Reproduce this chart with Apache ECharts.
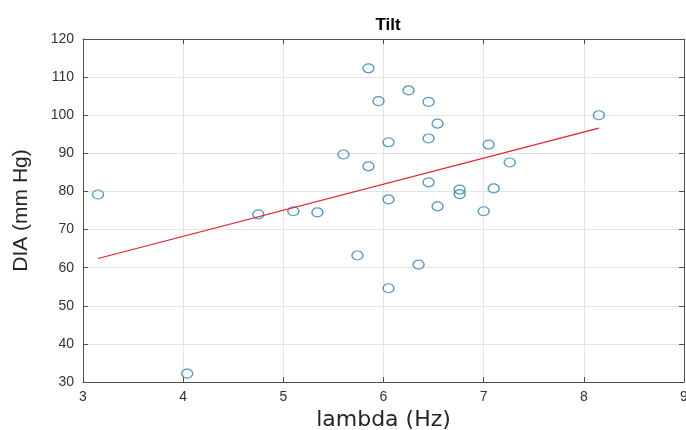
<!DOCTYPE html>
<html>
<head>
<meta charset="utf-8">
<script src="https://cdn.jsdelivr.net/npm/echarts@6/dist/echarts.min.js"></script>
<style>
html, body { margin: 0; padding: 0; background: #fff; }
#main { width: 686px; height: 430px; }
</style>
</head>
<body>
<div id="main"></div>
<script>
// data
var lambdaHz = [3.15, 4.04, 4.75, 5.10, 5.34, 5.60, 5.74, 5.85, 5.85, 5.95, 6.05, 6.05, 6.05, 6.25,
                6.35, 6.45, 6.45, 6.45, 6.54, 6.54, 6.76, 6.76, 7.00, 7.05, 7.10, 7.26, 8.15];
var diaMmHg = [79.2, 32.2, 74.0, 74.8, 74.5, 89.7, 63.2, 86.6, 112.3, 103.7, 92.9, 77.9, 54.6, 106.5,
               60.8, 103.5, 93.9, 82.4, 97.8, 76.1, 80.5, 79.3, 74.8, 92.3, 80.8, 87.6, 100.0];
var fitX = [3.15, 8.15];
var fitY = [62.4, 96.6];

var points = lambdaHz.map(function (x, i) { return [x, diaMmHg[i]]; });
var fitLine = fitX.map(function (x, i) { return [x, fitY[i]]; });

var axisCol = '#4d4d4d';
var tickStyle = { show: true, inside: true, length: 5, lineStyle: { color: axisCol } };

var myChart = echarts.init(document.getElementById('main'));
var option = {
    animation: false,
    title: {
        text: 'Tilt',
        left: 383,
        textAlign: 'center',
        top: 12,
        textStyle: { fontFamily: 'Liberation Sans', fontWeight: 'bold', fontSize: 17, color: '#000' }
    },
    grid: { left: 83, right: 2, top: 39, bottom: 48, outerBoundsMode: 'none', containLabel: false },
    xAxis: [{
        type: 'value', min: 3, max: 9, interval: 1,
        name: 'lambda (Hz)', nameLocation: 'middle', nameGap: 24,
        nameTextStyle: { fontFamily: 'DejaVu Sans', fontSize: 22, color: '#262626' },
        axisLine: { show: true, lineStyle: { color: axisCol, width: 1 } },
        axisTick: tickStyle,
        axisLabel: { fontFamily: 'Liberation Sans', fontSize: 14, color: '#333', margin: 8 },
        splitLine: { show: true, lineStyle: { color: '#e3e3e3' } }
    }, {
        type: 'value', min: 3, max: 9, interval: 1, position: 'top',
        axisLine: { show: true, lineStyle: { color: axisCol, width: 1 } },
        axisTick: tickStyle, axisLabel: { show: false }, splitLine: { show: false }
    }],
    yAxis: [{
        type: 'value', min: 30, max: 120, interval: 10,
        name: 'DIA (mm Hg)', nameLocation: 'middle', nameGap: 51,
        nameTextStyle: { fontFamily: 'Liberation Sans', fontSize: 21, color: '#262626' },
        axisLine: { show: true, lineStyle: { color: axisCol, width: 1 } },
        axisTick: tickStyle,
        axisLabel: { fontFamily: 'Liberation Sans', fontSize: 14, color: '#333', margin: 9 },
        splitLine: { show: true, lineStyle: { color: '#e3e3e3' } }
    }, {
        type: 'value', min: 30, max: 120, interval: 10, position: 'right',
        axisLine: { show: true, lineStyle: { color: axisCol, width: 1 } },
        axisTick: tickStyle, axisLabel: { show: false }, splitLine: { show: false }
    }],
    series: [{
        type: 'scatter',
        data: points,
        symbol: 'circle',
        symbolSize: [11, 9],
        itemStyle: { color: 'rgba(255,255,255,0)', borderColor: '#2f7fae', borderWidth: 1.3 }
    }, {
        type: 'line',
        data: fitLine,
        symbol: 'none',
        lineStyle: { color: '#e0202a', width: 1.2 }
    }]
};
myChart.setOption(option);
</script>
</body>
</html>
